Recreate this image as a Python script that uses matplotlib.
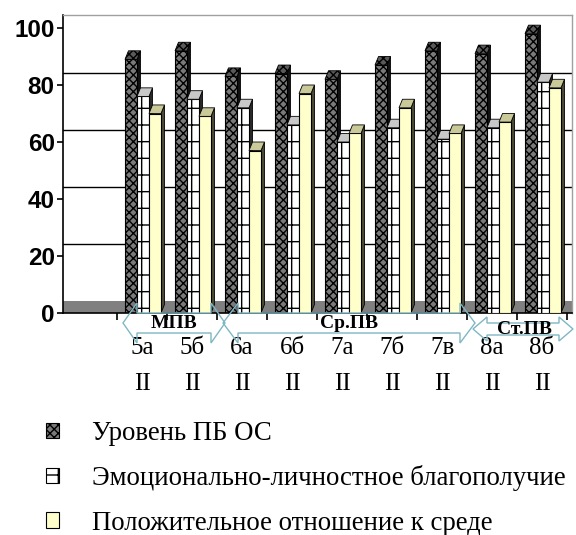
import matplotlib
matplotlib.use("Agg")
import matplotlib.pyplot as plt
import matplotlib.patches as mpatches
from matplotlib.transforms import blended_transform_factory
import numpy as np

# ---------------- data ----------------
classes = ["5а", "5б", "6а", "6б", "7а", "7б", "7в", "8а", "8б"]
sublabel = "II"
series_names = ["Уровень ПБ ОС",
                "Эмоционально-личностное благополучие",
                "Положительное отношение к среде"]
level_pb = [89, 92, 83, 84, 82, 87, 92, 91, 98]
emotional = [76, 75, 72, 66, 60, 65, 61, 65, 81]
positive = [70, 69, 57, 77, 63, 72, 63, 67, 79]
groups = [("МПВ", 0, 1), ("Ср.ПВ", 2, 6), ("Ст.ПВ", 7, 8)]
yticks = [0, 20, 40, 60, 80, 100]

# ---------------- style ----------------
W, H = 576, 535
fig = plt.figure(figsize=(W / 100, H / 100), dpi=100)
ax = fig.add_axes([63 / W, (H - 313) / H, (572 - 63) / W, (313 - 15) / H])
ymax = (313 - 15) / 2.85
ax.set_ylim(0, ymax)
ax.set_xlim(-1.58, 8.6)

floor = 4.2      # depth of the pseudo-3D floor in data units
dx, dy = 0.07, 3.0  # offset of the bar top faces
serif = "Liberation Serif"

styles = [
    dict(face="#7a7a7a", hatch="xxxx", cap="#5a5a5a", side="#111111"),
    dict(face="white", hatch="+", cap="#c8c8c8", side="#2a2a2a"),
    dict(face="#ffffcc", hatch=None, cap="#c9c99a", side="#4a4a36"),
]

# floor and back wall grid
ax.axhspan(0, floor, color="#808080", zorder=0.5, lw=0)
for v in yticks[1:-1]:
    ax.axhline(v + floor, color="black", lw=1.0, zorder=0.6)

x = np.arange(len(classes))
w = 0.24
data = [level_pb, emotional, positive]
for i, (vals, st, name) in enumerate(zip(data, styles, series_names)):
    pos = x + (i - 1) * w + 0.02
    z = 2 + i
    bars = ax.bar(pos, vals, width=w, color=st["face"], edgecolor="black",
                  hatch=st["hatch"], linewidth=0.8, zorder=z, label=name)
    for b in bars:
        x0 = b.get_x()
        x1 = x0 + b.get_width()
        top = b.get_height()
        # right side face
        ax.add_patch(mpatches.Polygon(
            [(x1, 0), (x1 + dx, dy), (x1 + dx, top + dy), (x1, top)],
            closed=True, facecolor=st["side"], edgecolor="black", lw=0.6,
            zorder=z - 0.1))
        # top face
        ax.add_patch(mpatches.Polygon(
            [(x0, top), (x0 + dx, top + dy), (x1 + dx, top + dy), (x1, top)],
            closed=True, facecolor=st["cap"], edgecolor="black", lw=0.6,
            hatch=st["hatch"] if i == 0 else None, zorder=z + 0.1))

# axes styling
for s in ["top", "right"]:
    ax.spines[s].set_color("#a0a0a0")
    ax.spines[s].set_linewidth(1.0)
ax.spines["left"].set_linewidth(1.2)
ax.spines["bottom"].set_linewidth(1.2)
ax.set_yticks(yticks)
ax.set_yticklabels([str(v) for v in yticks], fontsize=17.5, fontweight="bold",
                   family="Liberation Sans")
ax.tick_params(axis="y", length=4, width=1.2, pad=2)
ax.set_xticks(x)
ax.set_xticklabels([f"{c}\n{sublabel}" for c in classes], family=serif,
                   fontsize=18, linespacing=1.85)
ax.tick_params(axis="x", length=0, pad=17)
ax.set_xticks(np.arange(-0.5, len(classes)), minor=True)
ax.tick_params(axis="x", which="minor", length=5, width=1.2, direction="out")

# group arrows (block double arrows below the axis)
trans = blended_transform_factory(ax.transData, fig.transFigure)
arrow_color = "#7fb7c4"
for k, (name, a, b) in enumerate(groups):
    if k == 2:
        yc, hs, hh = 329, 6, 12
    else:
        yc, hs, hh = 323, 10, 20
    left = a - 0.38
    right = b + 0.66 if k < 2 else b + 0.62
    hl = 0.3 if k == 1 else 0.28
    yc_f = (H - yc) / H
    pts = [(left, yc_f),
           (left + hl, yc_f + hh / H), (left + hl, yc_f + hs / H),
           (right - hl, yc_f + hs / H), (right - hl, yc_f + hh / H),
           (right, yc_f),
           (right - hl, yc_f - hh / H), (right - hl, yc_f - hs / H),
           (left + hl, yc_f - hs / H), (left + hl, yc_f - hh / H)]
    fig.add_artist(mpatches.Polygon(pts, closed=True, transform=trans,
                                    facecolor="none", edgecolor=arrow_color,
                                    lw=1.0, clip_on=False, zorder=10))
    fig.text((a + b) / 2 + 0.14, yc_f, name, transform=trans, ha="center",
             va="center", family=serif, fontweight="bold", fontsize=14,
             zorder=11)

# legend
handles, labels = ax.get_legend_handles_labels()
leg = fig.legend(handles, labels, loc="upper left",
                 bbox_to_anchor=(46 / W, (H - 421) / H), frameon=False,
                 prop=dict(family=serif, size=19.3), handlelength=0.5,
                 handleheight=0.5, handletextpad=1.2, labelspacing=0.72,
                 borderpad=0, borderaxespad=0)

fig.savefig("out.png", dpi=100)
